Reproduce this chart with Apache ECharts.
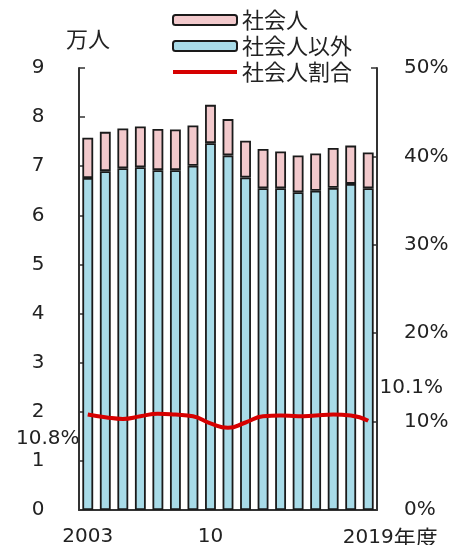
<!DOCTYPE html>
<html>
<head>
<meta charset="utf-8">
<script src="https://cdn.jsdelivr.net/npm/echarts@6/dist/echarts.min.js"></script>
<style>
html, body { margin: 0; padding: 0; background: #fff; }
#main { width: 455px; height: 545px; }
</style>
</head>
<body>
<div id="main"></div>
<script>
var years = ['2003', '2004', '2005', '2006', '2007', '2008', '2009', '2010', '2011',
    '2012', '2013', '2014', '2015', '2016', '2017', '2018', '2019'];
var tickLabels = { 0: '2003', 7: '10', 16: '2019年度' };
// 社会人以外 (万人)
var others = [6.76, 6.90, 6.96, 6.98, 6.92, 6.92, 7.01, 7.47, 7.22, 6.77, 6.55, 6.55, 6.47, 6.50, 6.56, 6.64, 6.55];
// 社会人 (万人)
var workers = [0.82, 0.80, 0.81, 0.83, 0.84, 0.83, 0.82, 0.78, 0.74, 0.75, 0.80, 0.75, 0.75, 0.76, 0.81, 0.78, 0.73];
// 社会人割合 (%)
var ratio = [10.8, 10.5, 10.3, 10.6, 10.9, 10.8, 10.6, 9.8, 9.3, 9.9, 10.6, 10.7, 10.6, 10.7, 10.8, 10.7, 10.1];

var numFont = 'DejaVu Sans, sans-serif';
var jpFont = 'Noto Sans CJK JP, sans-serif';
var chart = echarts.init(document.getElementById('main'));

var last = ratio.length - 1;

chart.setOption({
    animation: false,
    legend: {
        orient: 'vertical',
        left: 166,
        top: 4,
        itemWidth: 64,
        itemHeight: 10,
        itemGap: 4,
        data: ['社会人', '社会人以外', {
            name: '社会人割合',
            itemStyle: { opacity: 0 },
            lineStyle: { width: 4 }
        }],
        textStyle: { fontSize: 22, color: '#222', fontFamily: jpFont }
    },
    graphic: [{
        type: 'text',
        left: 66,
        top: 28,
        style: { text: '万人', fontSize: 22, fill: '#222', fontFamily: jpFont }
    }],
    grid: { left: 79, right: 78, top: 68, bottom: 35, outerBoundsMode: 'none' },
    xAxis: {
        type: 'category',
        data: years,
        axisTick: { show: false },
        axisLine: { lineStyle: { color: '#333', width: 2 } },
        axisLabel: {
            interval: 0,
            margin: 17,
            fontSize: 20,
            fontFamily: numFont,
            color: '#222',
            formatter: function (v, i) {
                if (i === 16) return '{p|}2019{u|年度}';
                return tickLabels[i] || '';
            },
            rich: {
                p: { width: 44 },
                u: { fontSize: 22, fontFamily: jpFont, color: '#222' }
            }
        }
    },
    yAxis: [{
        type: 'value',
        min: 0,
        max: 9,
        interval: 1,
        splitLine: { show: false },
        axisLine: { show: true, lineStyle: { color: '#333', width: 2 } },
        axisTick: { show: true, inside: true, length: 6, lineStyle: { color: '#333', width: 1.5 } },
        axisLabel: { fontSize: 20, fontFamily: numFont, color: '#222', margin: 41, align: 'center' }
    }, {
        type: 'value',
        min: 0,
        max: 50,
        interval: 10,
        splitLine: { show: false },
        axisLine: { show: true, lineStyle: { color: '#333', width: 2 } },
        axisTick: { show: true, inside: true, length: 6, lineStyle: { color: '#333', width: 1.5 } },
        axisLabel: { fontSize: 20, fontFamily: numFont, color: '#222', margin: 27, formatter: '{value}%' }
    }],
    series: [{
        name: '社会人以外',
        type: 'bar',
        stack: 'total',
        barWidth: '62%',
        data: others,
        itemStyle: { color: '#a8dbe8', borderColor: '#1a1a1a', borderWidth: 1.8 }
    }, {
        name: '社会人',
        type: 'bar',
        stack: 'total',
        barWidth: '62%',
        data: workers,
        itemStyle: { color: '#f2c9cc', borderColor: '#1a1a1a', borderWidth: 1.8 }
    }, {
        name: '社会人割合',
        type: 'line',
        yAxisIndex: 1,
        smooth: true,
        symbol: 'none',
        data: ratio,
        lineStyle: { color: '#d60000', width: 4 },
        itemStyle: { color: '#d60000' },
        z: 5,
        markPoint: {
            symbol: 'circle',
            symbolSize: 0,
            label: { show: true, fontSize: 20, fontFamily: numFont, color: '#222' },
            data: [
                { coord: [years[0], ratio[0]], value: ratio[0], label: { formatter: ratio[0] + '%', offset: [-40, 24] } },
                { coord: [years[last], ratio[last]], value: ratio[last], label: { formatter: ratio[last] + '%', offset: [43, -33] } }
            ]
        }
    }]
});
</script>
</body>
</html>
